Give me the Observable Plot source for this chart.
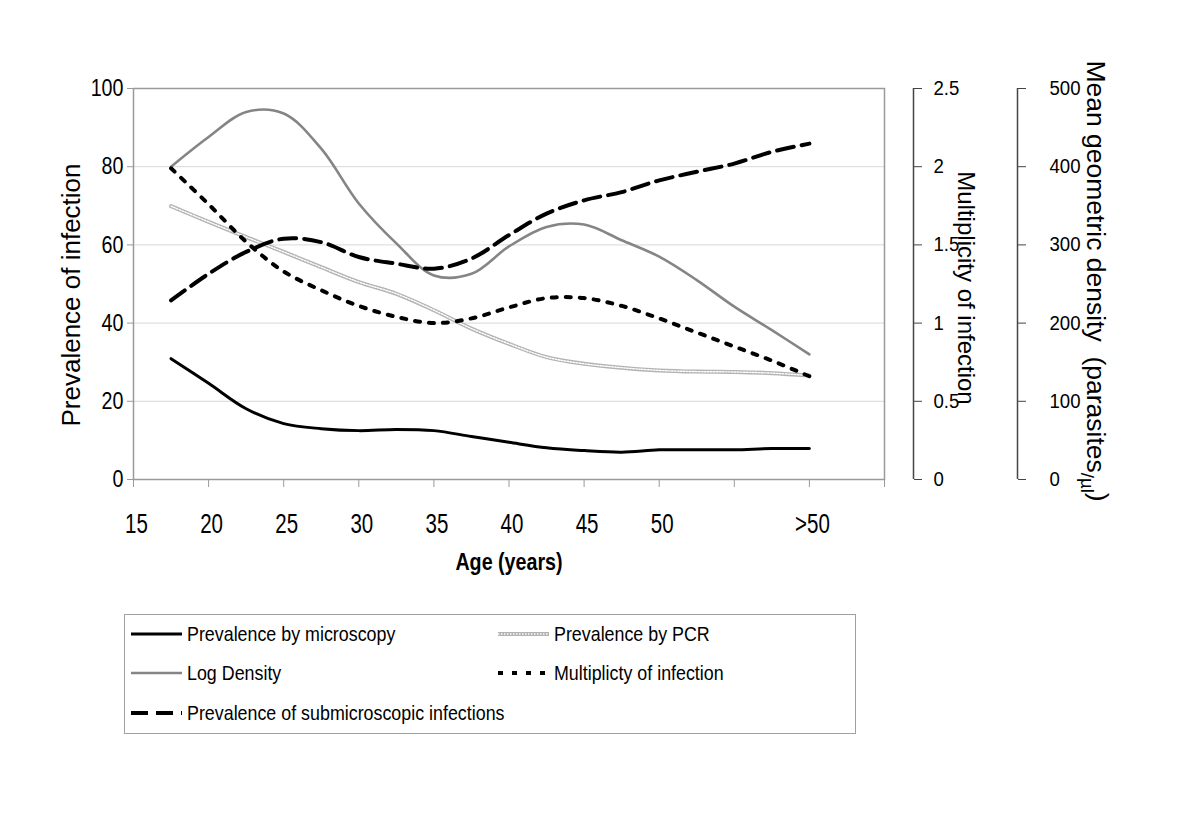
<!DOCTYPE html>
<html><head><meta charset="utf-8">
<script src="https://cdn.jsdelivr.net/npm/d3@7"></script>
<script src="https://cdn.jsdelivr.net/npm/@observablehq/plot@0.6"></script>
<style>
body{margin:0;background:#fff;font-family:'Liberation Sans',Arial,sans-serif;}
#chart{position:relative;width:1200px;height:600px;}
#chart svg{position:absolute;left:0;top:0;}
#legend{position:relative;margin-left:124px;margin-top:14px;width:732px;height:120px;box-sizing:border-box;border:1px solid #a0a0a0;}
.item{position:absolute;display:flex;align-items:center;font-size:21px;height:30px;white-space:nowrap;}
.item svg{display:block;margin-right:5px;}
.item span{display:inline-block;transform:scaleX(0.85);transform-origin:left center;}
</style></head>
<body><div id="chart"></div><div id="legend"></div>
<script>
// ---- data ----
const ages = [17.5,20,22.5,25,27.5,30,32.5,35,37.5,40,42.5,45,47.5,50,52.5,55,57.5,60];
const microscopy = [30.9,24.6,18.1,14.3,13.0,12.5,12.8,12.5,11.0,9.5,8.1,7.4,7.0,7.6,7.6,7.6,7.9,7.9];
const pcr = [69.9,65.9,62.0,58.2,54.3,50.5,47.5,43.3,38.6,34.7,31.3,29.6,28.6,27.9,27.6,27.5,27.2,26.6];
const density = [400,438,470,468,423,353,302,261,263,298,323,326,306,285,255,221,191,160]; // parasites/µl
const multiplicity = [1.99,1.76,1.52,1.33,1.21,1.11,1.04,1.00,1.03,1.10,1.16,1.16,1.11,1.03,0.94,0.85,0.76,0.66];
const submicro = [45.8,52.6,58.2,61.6,60.7,56.9,55.2,53.9,56.5,62.5,68.0,71.4,73.5,76.5,78.7,80.8,83.8,85.9];

const xTicks = [15,20,25,30,35,40,45,50,55,60,65];
const xTickLabels = ["15","20","25","30","35","40","45","50","",">50",""];
const yTicks = [0,20,40,60,80,100];
const moiTicks = [0,0.5,1,1.5,2,2.5];
const densTicks = [0,100,200,300,400,500];

const legendLabels = ["Prevalence by microscopy","Prevalence by PCR","Log Density","Multiplicty of infection","Prevalence of submicroscopic infections"];

// ---- build ----
const rows = ages.map((a,i)=>({age:a, micro:microscopy[i], pcr:pcr[i], dens:density[i], moi:multiplicity[i], sub:submicro[i]}));
const font = "'Liberation Sans',Arial,sans-serif";
const W = 1200, H = 600, MT = 88, MB = 121;
const curve = "catmull-rom";

const main = Plot.plot({
  width: W, height: H, marginLeft: 133, marginRight: 316, marginTop: MT, marginBottom: MB,
  x: {domain: [15,65]}, y: {domain: [0,100]},
  style: {fontFamily: font, color: "#000", background: "transparent", overflow: "visible"},
  marks: [
    Plot.ruleY([20,40,60,80], {stroke: "#d8d8d8", strokeWidth: 1}),
    Plot.frame({stroke: "#9a9a9a", strokeWidth: 1.5}),
    Plot.axisY({ticks: yTicks, tickSize: 6, tickPadding: 4, stroke: "#9a9a9a", fill: "#000", fontSize: 24, label: null}),
    Plot.axisX({ticks: xTicks, tickFormat: () => "", tickSize: 8, stroke: "#9a9a9a", label: null}),
    Plot.axisX({ticks: xTicks, tickFormat: d => xTickLabels[xTicks.indexOf(d)], tickSize: 0, tickPadding: 34, dx: 3, fill: "#000", fontSize: 27, label: null}),
    Plot.lineY(rows, {x: "age", y: "pcr", stroke: "#b3b3b3", strokeWidth: 4, curve}),
    Plot.lineY(rows, {x: "age", y: "pcr", stroke: "#fff", strokeWidth: 1.4, strokeDasharray: "1.5,1.5", curve}),
    Plot.lineY(rows, {x: "age", y: d => d.dens / 5, stroke: "#858585", strokeWidth: 2.6, curve}),
    Plot.lineY(rows, {x: "age", y: "micro", stroke: "#000", strokeWidth: 3, curve}),
    Plot.lineY(rows, {x: "age", y: d => d.moi * 40, stroke: "#000", strokeWidth: 4, strokeDasharray: "5,9", curve}),
    Plot.lineY(rows, {x: "age", y: "sub", stroke: "#000", strokeWidth: 4, strokeDasharray: "17,8", curve}),
    Plot.text(["Prevalence of infection"], {frameAnchor: "left", textAnchor: "middle", dx: -62, dy: 11, rotate: -90, fontSize: 26}),
    Plot.text(["Age (years)"], {frameAnchor: "bottom", textAnchor: "middle", dy: 90, fontSize: 24, fontWeight: "bold"})
  ]
});

function sideAxis(domain, ticks, rightEdge, pad, label, labelDx, labelDy, labelSize) {
  return Plot.plot({
    width: W, height: H, marginLeft: 0, marginRight: W - rightEdge, marginTop: MT, marginBottom: MB,
    x: {domain: [0,1], axis: null}, y: {domain, axis: null},
    style: {fontFamily: font, color: "#000", background: "transparent", overflow: "visible"},
    marks: [
      Plot.ruleX([1], {stroke: "#444", strokeWidth: 1.5}),
      Plot.axisY({anchor: "right", ticks, tickFormat: d => String(d), tickSize: 8, tickPadding: pad, stroke: "#444", fill: "#000", fontSize: 20, label: null}),
      Plot.text([label], {frameAnchor: "right", textAnchor: "middle", dx: labelDx, dy: labelDy, rotate: 90, fontSize: labelSize})
    ]
  });
}
const moiAxis = sideAxis([0,2.5], moiTicks, 913, 12, "Multiplicity of infection", 52, 4, 24);
const densAxis = sideAxis([0,500], densTicks, 1017, 24, "Mean geometric density  (parasites/µl)", 78, -3, 26.5);

const chart = document.getElementById("chart");
chart.append(main, moiAxis, densAxis);

// subscript "/µl" in the density title
d3.select(densAxis).selectAll("text").filter(function(){ return this.textContent.startsWith("Mean"); })
  .each(function(){
    const t = d3.select(this).style("white-space", "pre");
    t.text("");
    t.append("tspan").text("Mean geometric density  (parasites");
    t.append("tspan").attr("font-size", "0.7em").attr("dy", "0.35em").text("/µl");
    t.append("tspan").attr("dy", "-0.35em").text(")");
  });

// condensed look for horizontal texts (original uses a narrow face)
function condense(svg, factorFn) {
  d3.select(svg).selectAll("text").each(function(){
    const tr = this.getAttribute("transform") || "";
    if (tr.includes("rotate")) return;
    const f = factorFn(this);
    const L = this.getComputedTextLength();
    if (L > 0 && f !== 1) { this.setAttribute("textLength", L * f); this.setAttribute("lengthAdjust", "spacingAndGlyphs"); }
  });
}
condense(main, el => {
  const fs = parseFloat(el.closest("[font-size]")?.getAttribute("font-size") || 0);
  return fs === 27 ? 0.76 : 0.82;
});
[moiAxis, densAxis].forEach(s => condense(s, () => 0.93));

// ---- legend ----
const legendStyles = [
  {stroke: "#000", w: 3},
  {stroke: "#b3b3b3", w: 4, overlay: true},
  {stroke: "#858585", w: 2.6},
  {stroke: "#000", w: 4, dash: "5,9"},
  {stroke: "#000", w: 4, dash: "17,8"}
];
const legendPos = [[6,4],[373,4],[6,43],[373,43],[6,83]];
const legend = d3.select("#legend");
legendLabels.forEach((lab, i) => {
  const st = legendStyles[i];
  const item = legend.append("div").attr("class", "item")
    .style("left", legendPos[i][0] + "px").style("top", legendPos[i][1] + "px");
  const s = item.append("svg").attr("width", 51).attr("height", 12);
  s.append("line").attr("x1", 0).attr("x2", 51).attr("y1", 6).attr("y2", 6)
    .attr("stroke", st.stroke).attr("stroke-width", st.w).attr("stroke-dasharray", st.dash || null);
  if (st.overlay) s.append("line").attr("x1", 0).attr("x2", 51).attr("y1", 6).attr("y2", 6)
    .attr("stroke", "#fff").attr("stroke-width", 1.4).attr("stroke-dasharray", "1.5,1.5");
  item.append("span").text(lab);
});
</script>
</body></html>
